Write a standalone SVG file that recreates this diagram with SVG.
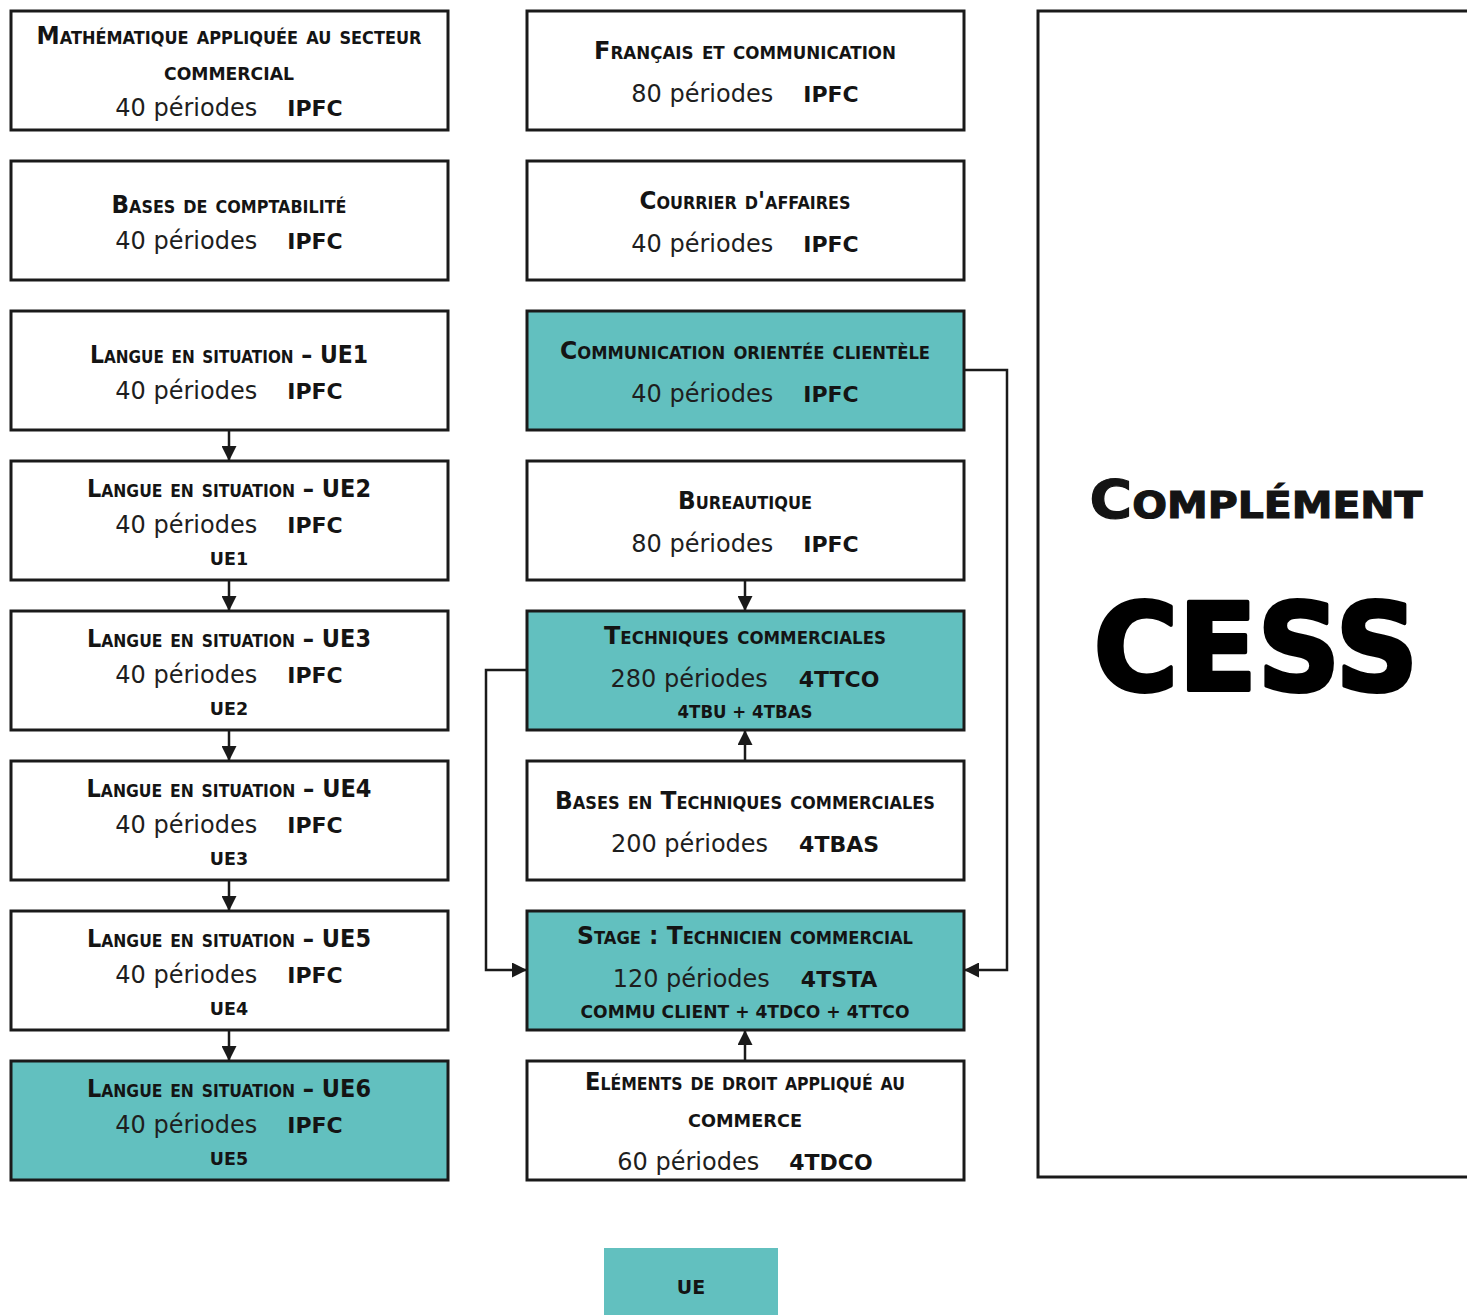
<svg xmlns="http://www.w3.org/2000/svg" width="1467" height="1315" viewBox="0 0 1467 1315">
<defs>
<style>
.box{fill:#ffffff;stroke:#1a1a1a;stroke-width:3}
.hl{fill:#62c0bf;stroke:#1a1a1a;stroke-width:3}
.t{font-family:"DejaVu Sans","Liberation Sans",sans-serif;font-weight:bold;font-size:24.5px;font-variant:small-caps;text-anchor:middle;fill:#141414}
.p{font-family:"DejaVu Sans","Liberation Sans",sans-serif;font-size:24px;text-anchor:middle;fill:#1e1e1e}
.c{font-weight:bold;font-size:22px;fill:#141414}
.s{font-family:"DejaVu Sans","Liberation Sans",sans-serif;font-weight:bold;font-size:17.5px;text-anchor:middle;fill:#141414}
.conn{fill:none;stroke:#1a1a1a;stroke-width:2.5}
</style>
<marker id="arr" markerUnits="userSpaceOnUse" markerWidth="15" markerHeight="15" viewBox="0 0 15 15" refX="14" refY="7.5" orient="auto">
<path d="M0,0 L15,7.5 L0,15 Z" fill="#1a1a1a"/>
</marker>
</defs>
<rect width="1467" height="1315" fill="#ffffff"/>

<g id="connectors">
<line class="conn" x1="229" y1="431" x2="229" y2="460" marker-end="url(#arr)"/>
<line class="conn" x1="229" y1="581" x2="229" y2="610" marker-end="url(#arr)"/>
<line class="conn" x1="229" y1="731" x2="229" y2="760" marker-end="url(#arr)"/>
<line class="conn" x1="229" y1="881" x2="229" y2="910" marker-end="url(#arr)"/>
<line class="conn" x1="229" y1="1031" x2="229" y2="1060" marker-end="url(#arr)"/>
<line class="conn" x1="745" y1="581" x2="745" y2="610" marker-end="url(#arr)"/>
<line class="conn" x1="745" y1="760" x2="745" y2="731" marker-end="url(#arr)"/>
<line class="conn" x1="745" y1="1060" x2="745" y2="1031" marker-end="url(#arr)"/>
<path class="conn" d="M527,670 H486 V970 H526" marker-end="url(#arr)"/>
<path class="conn" d="M964,370 H1007 V970 H965" marker-end="url(#arr)"/>
</g>

<g id="math">
<rect class="box" x="11" y="11" width="437" height="119"/>
<text class="t" x="229" y="44" textLength="385" lengthAdjust="spacingAndGlyphs">Mathématique appliquée au secteur</text>
<text class="t" x="229" y="80" textLength="130" lengthAdjust="spacingAndGlyphs">commercial</text>
<text class="p" x="229" y="116"><tspan>40 périodes</tspan><tspan class="c" dx="30">IPFC</tspan></text>
</g>
<g id="compta">
<rect class="box" x="11" y="161" width="437" height="119"/>
<text class="t" x="229" y="213" textLength="235" lengthAdjust="spacingAndGlyphs">Bases de comptabilité</text>
<text class="p" x="229" y="249"><tspan>40 périodes</tspan><tspan class="c" dx="30">IPFC</tspan></text>
</g>
<g id="ue1">
<rect class="box" x="11" y="311" width="437" height="119"/>
<text class="t" x="229" y="363" textLength="278" lengthAdjust="spacingAndGlyphs">Langue en situation – UE1</text>
<text class="p" x="229" y="399"><tspan>40 périodes</tspan><tspan class="c" dx="30">IPFC</tspan></text>
</g>
<g id="ue2">
<rect class="box" x="11" y="461" width="437" height="119"/>
<text class="t" x="229" y="497" textLength="284" lengthAdjust="spacingAndGlyphs">Langue en situation – UE2</text>
<text class="p" x="229" y="533"><tspan>40 périodes</tspan><tspan class="c" dx="30">IPFC</tspan></text>
<text class="s" x="229" y="565">UE1</text>
</g>
<g id="ue3">
<rect class="box" x="11" y="611" width="437" height="119"/>
<text class="t" x="229" y="647" textLength="284" lengthAdjust="spacingAndGlyphs">Langue en situation – UE3</text>
<text class="p" x="229" y="683"><tspan>40 périodes</tspan><tspan class="c" dx="30">IPFC</tspan></text>
<text class="s" x="229" y="715">UE2</text>
</g>
<g id="ue4">
<rect class="box" x="11" y="761" width="437" height="119"/>
<text class="t" x="229" y="797" textLength="285" lengthAdjust="spacingAndGlyphs">Langue en situation – UE4</text>
<text class="p" x="229" y="833"><tspan>40 périodes</tspan><tspan class="c" dx="30">IPFC</tspan></text>
<text class="s" x="229" y="865">UE3</text>
</g>
<g id="ue5">
<rect class="box" x="11" y="911" width="437" height="119"/>
<text class="t" x="229" y="947" textLength="284" lengthAdjust="spacingAndGlyphs">Langue en situation – UE5</text>
<text class="p" x="229" y="983"><tspan>40 périodes</tspan><tspan class="c" dx="30">IPFC</tspan></text>
<text class="s" x="229" y="1015">UE4</text>
</g>
<g id="ue6">
<rect class="hl" x="11" y="1061" width="437" height="119"/>
<text class="t" x="229" y="1097" textLength="284" lengthAdjust="spacingAndGlyphs">Langue en situation – UE6</text>
<text class="p" x="229" y="1133"><tspan>40 périodes</tspan><tspan class="c" dx="30">IPFC</tspan></text>
<text class="s" x="229" y="1165">UE5</text>
</g>

<g id="francais">
<rect class="box" x="527" y="11" width="437" height="119"/>
<text class="t" x="745" y="59" textLength="302" lengthAdjust="spacingAndGlyphs">Français et communication</text>
<text class="p" x="745" y="102"><tspan>80 périodes</tspan><tspan class="c" dx="30">IPFC</tspan></text>
</g>
<g id="courrier">
<rect class="box" x="527" y="161" width="437" height="119"/>
<text class="t" x="745" y="209" textLength="211" lengthAdjust="spacingAndGlyphs">Courrier d'affaires</text>
<text class="p" x="745" y="252"><tspan>40 périodes</tspan><tspan class="c" dx="30">IPFC</tspan></text>
</g>
<g id="commu">
<rect class="hl" x="527" y="311" width="437" height="119"/>
<text class="t" x="745" y="359" textLength="370" lengthAdjust="spacingAndGlyphs">Communication orientée clientèle</text>
<text class="p" x="745" y="402"><tspan>40 périodes</tspan><tspan class="c" dx="30">IPFC</tspan></text>
</g>
<g id="bureautique">
<rect class="box" x="527" y="461" width="437" height="119"/>
<text class="t" x="745" y="509" textLength="134" lengthAdjust="spacingAndGlyphs">Bureautique</text>
<text class="p" x="745" y="552"><tspan>80 périodes</tspan><tspan class="c" dx="30">IPFC</tspan></text>
</g>
<g id="techniques">
<rect class="hl" x="527" y="611" width="437" height="119"/>
<text class="t" x="745" y="644" textLength="282" lengthAdjust="spacingAndGlyphs">Techniques commerciales</text>
<text class="p" x="745" y="687"><tspan>280 périodes</tspan><tspan class="c" dx="31">4TTCO</tspan></text>
<text class="s" x="745" y="718" textLength="135" lengthAdjust="spacingAndGlyphs">4TBU + 4TBAS</text>
</g>
<g id="bases-tc">
<rect class="box" x="527" y="761" width="437" height="119"/>
<text class="t" x="745" y="809" textLength="380" lengthAdjust="spacingAndGlyphs">Bases en Techniques commerciales</text>
<text class="p" x="745" y="852"><tspan>200 périodes</tspan><tspan class="c" dx="31">4TBAS</tspan></text>
</g>
<g id="stage">
<rect class="hl" x="527" y="911" width="437" height="119"/>
<text class="t" x="745" y="944" textLength="336" lengthAdjust="spacingAndGlyphs">Stage : Technicien commercial</text>
<text class="p" x="745" y="987"><tspan>120 périodes</tspan><tspan class="c" dx="31">4TSTA</tspan></text>
<text class="s" x="745" y="1018" textLength="329" lengthAdjust="spacingAndGlyphs">COMMU CLIENT + 4TDCO + 4TTCO</text>
</g>
<g id="droit">
<rect class="box" x="527" y="1061" width="437" height="119"/>
<text class="t" x="745" y="1090" textLength="320" lengthAdjust="spacingAndGlyphs">Eléments de droit appliqué au</text>
<text class="t" x="745" y="1127" textLength="114" lengthAdjust="spacingAndGlyphs">commerce</text>
<text class="p" x="745" y="1170"><tspan>60 périodes</tspan><tspan class="c" dx="30">4TDCO</tspan></text>
</g>

<g id="cess">
<rect class="box" x="1038" y="11" width="440" height="1166"/>
<text class="t" x="1256" y="518" style="font-size:54px;font-weight:900;stroke:#141414;stroke-width:1.2" textLength="333" lengthAdjust="spacingAndGlyphs">Complément</text>
<text x="1256" y="690" style="font-family:'DejaVu Sans','Liberation Sans',sans-serif;font-weight:900;font-size:122px;text-anchor:middle;fill:#000;stroke:#000;stroke-width:4;stroke-linejoin:round" textLength="325" lengthAdjust="spacingAndGlyphs">CESS</text>
</g>

<g id="legend">
<rect x="604" y="1248" width="174" height="80" fill="#62c0bf"/>
<text class="s" x="691" y="1294" style="font-size:19px">UE</text>
</g>
</svg>
